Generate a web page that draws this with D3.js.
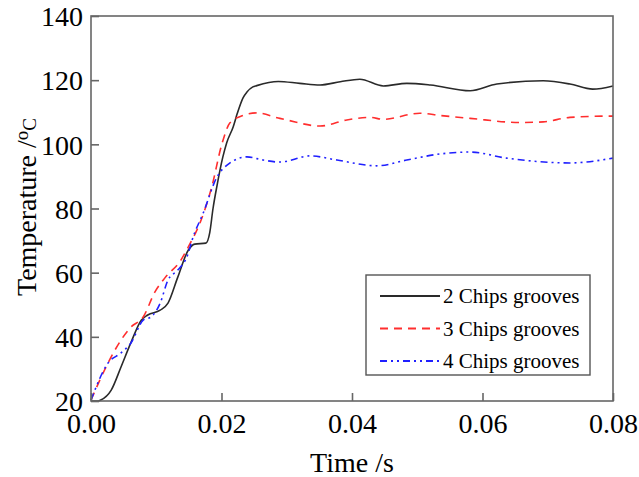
<!DOCTYPE html>
<html>
<head>
<meta charset="utf-8">
<script src="https://cdn.jsdelivr.net/npm/d3@7"></script>
<style>
  body { margin: 0; background: #fff; }
  svg { display: block; font-family: "Liberation Serif", "Times New Roman", serif; }
</style>
</head>
<body>
<svg id="chart" width="639" height="477"></svg>
<script>
// values
var xTicks = [0, 0.02, 0.04, 0.06, 0.08];
var yTicks = [20, 40, 60, 80, 100, 120, 140];
var seriesNames = ["2 Chips grooves", "3 Chips grooves", "4 Chips grooves"];

var time2 = [0, 0.0011, 0.0015, 0.0031, 0.0046, 0.0061, 0.0077, 0.0087, 0.0106, 0.0118, 0.0133, 0.0149, 0.0159,
    0.0176, 0.0182, 0.0187, 0.0193, 0.0202, 0.0208, 0.0218, 0.0224, 0.0233, 0.0239, 0.0248, 0.0254, 0.0287,
    0.0320, 0.0351, 0.0382, 0.0412, 0.0448, 0.0484, 0.0520, 0.0581, 0.0622, 0.0693, 0.0734, 0.0769, 0.0800];
var temp2 = [20, 20, 20.3, 23.4, 30.6, 38.1, 45.2, 46.8, 48.3, 50.5, 58.6, 67, 68.9,
    69.2, 72.5, 80, 87, 96, 100.5, 105.5, 109.5, 114.5, 116.3, 117.9, 118.3, 119.6,
    119, 118.5, 119.5, 120.3, 118.2, 119, 118.5, 116.7, 118.8, 119.8, 118.8, 117.2, 118.2];

var time3 = [0, 0.0026, 0.0046, 0.0061, 0.0080, 0.0098, 0.0113, 0.0138, 0.0149, 0.0167, 0.0185, 0.0201,
    0.0213, 0.0233, 0.0254, 0.0287, 0.0300, 0.0351, 0.0392, 0.0428, 0.0448, 0.0504, 0.0535, 0.0581,
    0.0658, 0.0693, 0.0734, 0.0795, 0.0800];
var temp3 = [20.3, 31.8, 39, 43, 46.2, 54, 58.3, 64, 68, 75.5, 86.7, 100.4,
    106.7, 109, 109.8, 108.2, 107.6, 105.7, 107.6, 108.4, 107.8, 109.7, 109, 108.1,
    106.8, 107, 108.4, 108.8, 108.8];

var time4 = [0, 0.0026, 0.0046, 0.0061, 0.0080, 0.0092, 0.0106, 0.0118, 0.0133, 0.0149, 0.0155, 0.0172,
    0.0193, 0.0213, 0.0239, 0.0264, 0.0287, 0.0290, 0.0336, 0.0377, 0.0438, 0.0484, 0.0535, 0.0581,
    0.0637, 0.0734, 0.0800];
var temp4 = [20.3, 31.8, 35, 38, 45.2, 46.2, 50.5, 57.7, 60.8, 66, 70.2, 78.6,
    89.8, 94.2, 96.1, 95.1, 94.5, 94.5, 96.4, 95.1, 93.3, 95.1, 97, 97.6,
    95.7, 94.2, 95.7];

var margin = {top: 16, right: 26, bottom: 76, left: 91};
var width = 639, height = 477;
var axisColor = "#666";
var serif = "'Liberation Serif', 'Times New Roman', serif";

var svg = d3.select("#chart");

var x = d3.scaleLinear()
    .domain([0, 0.08])
    .range([margin.left, width - margin.right]);

var y = d3.scaleLinear()
    .domain([20, 140])
    .range([height - margin.bottom, margin.top]);

function pairs(t, v) {
    return t.map(function(d, i) { return {t: d, v: v[i]}; });
}

var series = [
    {name: seriesNames[0], data: pairs(time2, temp2), color: "#2a2a2a", dash: null},
    {name: seriesNames[1], data: pairs(time3, temp3), color: "#ff2e2e", dash: "8,6"},
    {name: seriesNames[2], data: pairs(time4, temp4), color: "#2020ff", dash: "7,4,2,4,2,4"}
];

var line = d3.line()
    .x(d => x(d.t))
    .y(d => y(d.v))
    .curve(d3.curveMonotoneX);

svg.append("g")
    .selectAll("path")
    .data(series)
    .enter().append("path")
    .attr("fill", "none")
    .attr("stroke", d => d.color)
    .attr("stroke-width", 1.6)
    .attr("stroke-dasharray", d => d.dash)
    .attr("d", d => line(d.data));

// frame
svg.append("rect")
    .attr("x", x(0))
    .attr("y", y(140))
    .attr("width", x(0.08) - x(0))
    .attr("height", y(20) - y(140))
    .attr("fill", "none")
    .attr("stroke", axisColor)
    .attr("stroke-width", 1.6);

var xAxis = g => g
    .attr("transform", `translate(0,${y(20)})`)
    .call(d3.axisBottom(x).tickValues(xTicks).tickFormat(d3.format(".2f")).tickSizeInner(-8).tickSizeOuter(0).tickPadding(12))
    .attr("font-family", serif)
    .attr("font-size", 28)
    .call(g => g.select(".domain").remove())
    .call(g => g.selectAll("line").attr("stroke", axisColor).attr("stroke-width", 1.6))
    .call(g => g.selectAll("text").attr("fill", "#000").attr("dy", "0.71em"));

var yAxis = g => g
    .attr("transform", `translate(${x(0)},0)`)
    .call(d3.axisLeft(y).tickValues(yTicks).tickSizeInner(-8).tickSizeOuter(0).tickPadding(8))
    .attr("font-family", serif)
    .attr("font-size", 28)
    .call(g => g.select(".domain").remove())
    .call(g => g.selectAll("line").attr("stroke", axisColor).attr("stroke-width", 1.6))
    .call(g => g.selectAll("text").attr("fill", "#000").attr("dy", "0.35em"));

svg.append("g").call(xAxis);
svg.append("g").call(yAxis);

// axis titles
svg.append("text")
    .attr("x", (x(0) + x(0.08)) / 2)
    .attr("y", 472)
    .attr("text-anchor", "middle")
    .style("font-size", "28px")
    .text("Time /s");

var yTitle = svg.append("text")
    .attr("transform", "translate(36," + 207 + ") rotate(-90)")
    .attr("text-anchor", "middle")
    .style("font-size", "28px");
yTitle.append("tspan").text("Temperature /");
yTitle.append("tspan").attr("dy", "-0.4em").style("font-size", "19px").text("o");
yTitle.append("tspan").attr("dy", "0.4em").style("font-size", "19px").text("C");

// legend
var legend = svg.append("g").attr("transform", "translate(366,275)");

legend.append("rect")
    .attr("width", 224)
    .attr("height", 100)
    .attr("fill", "#fff")
    .attr("stroke", "#555")
    .attr("stroke-width", 1.4);

var item = legend.selectAll(".item")
    .data(series)
    .enter().append("g")
    .attr("class", "item")
    .attr("transform", (d, i) => `translate(0,${21 + i * 32.5})`);

item.append("line")
    .attr("x1", 14)
    .attr("x2", 74)
    .attr("stroke", d => d.color)
    .attr("stroke-width", 1.8)
    .attr("stroke-dasharray", d => d.dash);

item.append("text")
    .attr("x", 77)
    .attr("dy", "0.35em")
    .style("font-size", "21px")
    .text(d => d.name);
</script>
</body>
</html>
